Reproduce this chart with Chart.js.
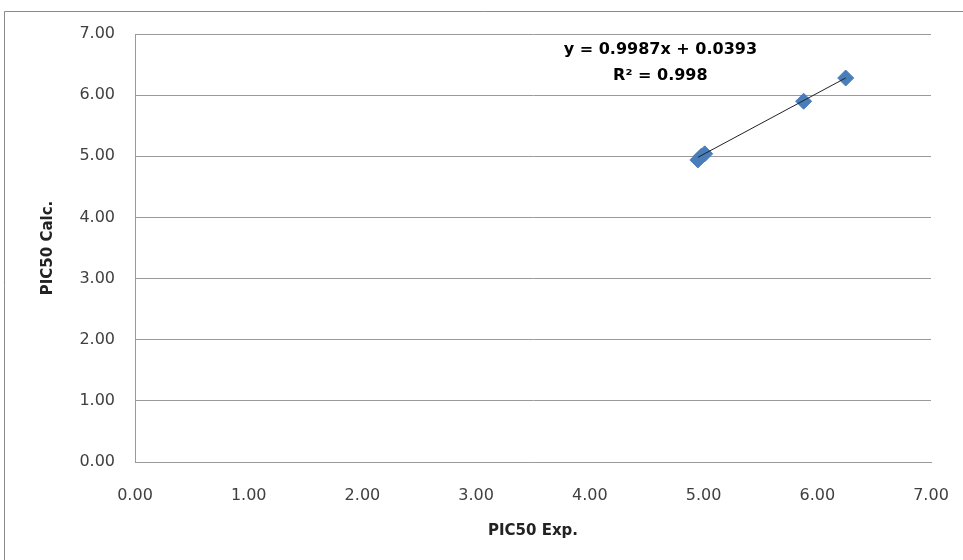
<!DOCTYPE html>
<html>
<head>
<meta charset="utf-8">
<script src="https://cdn.jsdelivr.net/npm/chart.js@4"></script>
<style>
  html, body { margin: 0; padding: 0; background: #fff; }
  #wrap { width: 963px; height: 560px; }
</style>
</head>
<body>
<div id="wrap"><canvas id="myChart" width="963" height="560"></canvas></div>
<script>
// values
const expValues = [4.95, 4.98, 5.01, 5.88, 6.25];
const calcValues = [4.94, 5.00, 5.04, 5.90, 6.28];
const tickValues = [0, 1, 2, 3, 4, 5, 6, 7];
const trendSlope = 0.9987;
const trendIntercept = 0.0393;
const trendR2 = 0.998;

const puntos = expValues.map((x, i) => ({ x: x, y: calcValues[i] }));
const xMin = Math.min(...expValues);
const xMax = Math.max(...expValues);
const trend = [
  { x: xMin, y: trendSlope * xMin + trendIntercept },
  { x: xMax, y: trendSlope * xMax + trendIntercept },
];

const fuente = "'DejaVu Sans', sans-serif";

// grey frame round the chart, cut by the window on the right and bottom
const marco = {
  id: "marco",
  beforeDraw(chart) {
    const ctx = chart.ctx;
    ctx.save();
    ctx.fillStyle = "#fff";
    ctx.fillRect(0, 0, chart.width, chart.height);
    ctx.strokeStyle = "#8a8a8a";
    ctx.lineWidth = 1;
    ctx.beginPath();
    ctx.moveTo(4.5, chart.height);
    ctx.lineTo(4.5, 11.5);
    ctx.lineTo(chart.width, 11.5);
    ctx.stroke();
    ctx.restore();
  },
};

// trendline equation label
const ecuacion = {
  id: "ecuacion",
  afterDatasetsDraw(chart) {
    const ctx = chart.ctx;
    const xs = chart.scales.x;
    const ys = chart.scales.y;
    const cx = xs.getPixelForValue(4.62);
    ctx.save();
    ctx.fillStyle = "#000";
    ctx.font = "bold 16px " + fuente;
    ctx.textAlign = "center";
    ctx.textBaseline = "middle";
    ctx.fillText("y = " + trendSlope + "x + " + trendIntercept, cx, ys.getPixelForValue(6.74));
    ctx.fillText("R\u00B2 = " + trendR2, cx, ys.getPixelForValue(6.32));
    ctx.restore();
  },
};

const ctx = document.getElementById("myChart").getContext("2d");
const myChart = new Chart(ctx, {
  type: "scatter",
  data: {
    datasets: [
      {
        data: puntos,
        pointStyle: "rectRot",
        pointRadius: 8,
        pointHoverRadius: 8,
        backgroundColor: "#4a7ebb",
        borderColor: "#4a7ebb",
        borderWidth: 1,
        order: 1,
      },
      {
        type: "line",
        data: trend,
        borderColor: "#222",
        borderWidth: 1,
        pointRadius: 0,
        fill: false,
        order: 0,
      },
    ],
  },
  options: {
    responsive: false,
    animation: false,
    events: [],
    layout: { padding: { left: 39, right: 32, top: 34, bottom: 20 } },
    plugins: {
      legend: { display: false },
      tooltip: { enabled: false },
    },
    scales: {
      x: {
        type: "linear",
        min: 0,
        max: 7,
        afterBuildTicks: (s) => { s.ticks = tickValues.map((v) => ({ value: v })); },
        afterFit: (s) => { s.height = 78; s.paddingLeft = 0; s.paddingRight = 0; },
        grid: { display: false, drawTicks: false },
        border: { color: "#9a9a9a", width: 1 },
        ticks: {
          padding: 24,
          color: "#404040",
          font: { family: fuente, size: 16 },
          callback: (v) => Number(v).toFixed(2),
          maxRotation: 0,
        },
        title: {
          display: true,
          text: "PIC50 Exp.",
          color: "#222",
          font: { family: fuente, size: 15, weight: "bold" },
          padding: 0,
        },
      },
      y: {
        type: "linear",
        min: 0,
        max: 7,
        afterBuildTicks: (s) => { s.ticks = tickValues.map((v) => ({ value: v })); },
        afterFit: (s) => { s.width = 96; s.paddingTop = 0; s.paddingBottom = 0; },
        grid: { color: "#9a9a9a", drawTicks: false },
        border: { color: "#9a9a9a", width: 1 },
        ticks: {
          padding: 20,
          color: "#404040",
          font: { family: fuente, size: 16 },
          callback: (v) => Number(v).toFixed(2),
        },
        title: {
          display: true,
          text: "PIC50 Calc.",
          color: "#222",
          font: { family: fuente, size: 15, weight: "bold" },
          padding: 0,
        },
      },
    },
  },
  plugins: [marco, ecuacion],
});
</script>
</body>
</html>
